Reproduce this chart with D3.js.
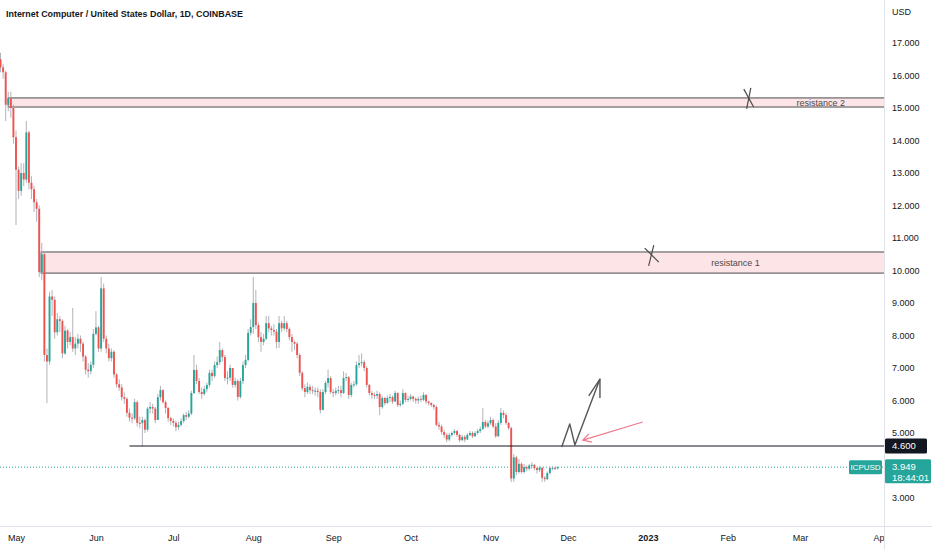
<!DOCTYPE html>
<html>
<head>
<meta charset="utf-8">
<title>ICPUSD</title>
<script src="https://cdn.jsdelivr.net/npm/d3@7"></script>
<style>
  body { margin: 0; background: #fff; }
  svg { display: block; font-family: "Liberation Sans", Arial, sans-serif; }
</style>
</head>
<body>
<svg id="chart"></svg>
<script>

const width = 932;
const height = 550;
const plotRight = 884;
const plotBottom = 526;

// daily candles, first one on 2022-04-25, open of each day = previous close
const firstDay = "2022-04-25T00:00";
const firstOpen = 16.5;

const closes = [
  16.25,16.1,15.1,15.3,15.0,14.1,13.1,12.45,13.0,12.8,
  14.25,12.7,12.5,12.1,11.9,9.95,10.5,7.4,7.2,9.2,
  9.1,8.1,8.5,8.45,7.45,8.15,7.8,7.95,7.6,7.75,
  7.9,7.75,7.35,6.95,6.9,7.1,8.05,8.25,7.6,9.45,
  7.9,7.6,7.3,7.5,6.8,6.5,6.4,6.1,6.05,5.62,
  5.47,5.45,5.95,5.31,5.3,5.4,5.1,5.75,5.8,5.75,
  5.4,6.1,6.32,5.95,5.77,5.46,5.37,5.31,5.18,5.25,
  5.37,5.55,5.5,5.6,6.23,6.94,6.6,6.26,6.2,6.35,
  6.48,6.85,6.75,7.09,7.18,7.55,7.34,6.69,6.7,7.0,
  6.48,6.6,6.11,6.6,7.09,7.25,8.08,8.26,9.0,8.32,
  7.95,7.8,7.9,8.38,8.22,8.17,8.12,7.8,8.38,8.22,
  8.38,8.2,7.95,7.8,7.75,7.4,6.85,6.38,6.26,6.42,
  6.32,6.3,6.3,6.26,5.71,6.26,6.54,6.69,6.26,6.23,
  6.3,6.32,6.23,6.69,6.72,6.17,6.48,6.5,7.09,7.15,
  7.18,7.0,6.48,6.23,6.17,6.15,6.2,5.8,6.08,5.92,
  6.08,6.11,5.97,6.23,5.86,5.9,6.23,6.02,6.05,6.12,
  6.05,6.0,6.05,6.02,6.17,5.97,5.92,5.86,5.8,5.25,
  5.2,5.03,4.94,4.8,4.94,5.0,5.06,4.94,4.78,4.88,
  4.8,4.94,5.0,4.9,5.0,5.06,5.12,5.34,5.2,5.3,
  5.4,5.2,4.9,5.31,5.62,5.55,5.31,5.15,3.6,4.25,
  3.8,4.05,3.8,3.95,3.9,4.0,4.02,3.92,3.86,3.93,
  3.62,3.58,3.77,3.92,3.93,3.91,3.949
];

const highs = [
  16.7,16.35,16.15,15.5,15.5,15.1,14.3,13.2,13.3,13.3,
  14.6,14.3,12.9,12.6,12.2,12.0,10.85,10.6,7.6,9.35,
  9.4,9.2,8.7,8.6,8.5,8.3,8.2,8.1,8.85,7.95,
  8.05,8.0,7.8,7.4,7.15,7.2,8.2,8.75,8.3,9.8,
  9.6,8.0,7.75,7.6,7.55,6.85,6.65,6.5,6.25,6.1,
  5.75,5.6,6.05,6.0,5.5,5.5,5.45,5.8,5.95,5.9,
  5.8,6.2,6.45,6.35,6.0,5.8,5.5,5.45,5.38,5.35,
  5.45,5.6,5.65,5.7,6.3,7.4,7.1,6.7,6.4,6.45,
  6.55,6.95,6.95,7.2,7.35,7.8,7.6,7.4,6.9,7.1,
  7.0,6.7,6.65,6.7,7.2,7.4,8.2,8.5,9.8,9.4,
  8.4,8.1,8.05,8.6,8.6,8.3,8.35,8.2,8.6,8.45,
  8.6,8.45,8.25,8.05,7.85,7.8,7.45,6.9,6.5,6.55,
  6.5,6.45,6.4,6.4,6.35,6.35,6.6,6.95,6.75,6.35,
  6.4,6.45,6.45,6.9,6.85,6.75,6.55,6.6,7.2,7.4,
  7.45,7.25,7.05,6.5,6.3,6.25,6.3,6.25,6.15,6.1,
  6.15,6.2,6.15,6.3,6.25,6.0,6.35,6.25,6.15,6.2,
  6.15,6.1,6.12,6.15,6.25,6.2,6.0,5.95,5.9,5.85,
  5.35,5.25,5.1,5.0,5.0,5.05,5.12,5.1,4.98,4.95,
  4.94,5.0,5.06,5.05,5.05,5.12,5.2,5.77,5.4,5.38,
  5.5,5.45,5.3,5.4,5.77,5.7,5.62,5.35,5.2,4.35,
  4.3,4.2,4.1,4.05,4.0,4.05,4.1,4.05,3.95,3.98,
  3.95,3.68,3.82,3.97,3.98,3.96,3.97
];

const lows = [
  16.1,15.9,14.6,14.9,14.7,13.9,11.4,12.2,12.3,12.6,
  12.7,12.5,12.2,11.8,11.5,9.8,9.7,7.2,5.92,7.1,
  8.6,7.9,8.0,8.1,7.3,7.4,7.6,7.7,7.5,7.4,
  7.6,7.5,7.2,6.8,6.7,6.8,7.0,8.0,7.5,7.5,
  7.8,7.45,7.2,7.2,6.7,6.4,6.3,6.0,5.9,5.5,
  5.35,5.3,5.4,5.2,5.15,4.58,5.0,5.05,5.6,5.6,
  5.3,5.4,6.0,5.9,5.6,5.35,5.25,5.2,5.05,5.1,
  5.2,5.3,5.4,5.45,5.55,6.2,6.5,6.2,6.05,6.15,
  6.25,6.4,6.6,6.7,7.0,7.1,7.2,6.6,6.5,6.6,
  6.4,6.4,6.0,6.05,6.5,7.0,7.2,8.0,8.05,8.2,
  7.8,7.5,7.7,7.85,8.1,8.0,8.0,7.6,7.62,8.1,
  8.15,8.1,7.85,7.5,7.55,7.3,6.75,6.3,6.1,6.2,
  6.2,6.2,6.15,6.1,5.6,5.7,6.2,6.4,6.2,6.1,
  6.15,6.2,6.1,6.2,6.6,6.05,6.1,6.4,6.45,7.0,
  7.05,6.9,6.4,6.15,6.05,6.05,6.05,5.55,5.75,5.85,
  5.9,5.95,5.9,5.95,5.8,5.8,5.85,5.95,5.95,6.0,
  5.95,5.9,5.9,5.95,5.98,5.9,5.85,5.8,5.72,5.2,
  5.1,4.95,4.85,4.72,4.75,4.88,4.95,4.88,4.72,4.75,
  4.72,4.78,4.9,4.85,4.88,4.95,5.0,5.1,5.15,5.15,
  5.25,5.15,4.85,4.88,5.25,5.45,5.25,5.1,3.49,3.5,
  3.7,3.75,3.75,3.75,3.82,3.85,3.9,3.85,3.75,3.8,
  3.5,3.5,3.55,3.72,3.86,3.86,3.88
];

const priceTicks = [3,4,5,6,7,8,9,10,11,12,13,14,15,16,17];
const monthTicks = ["2022-05-01T00:00","2022-06-01T00:00","2022-07-01T00:00","2022-08-01T00:00",
  "2022-09-01T00:00","2022-10-01T00:00","2022-11-01T00:00","2022-12-01T00:00",
  "2023-01-01T00:00","2023-02-01T00:00","2023-03-01T00:00","2023-04-01T00:00"];
const monthLabels = ["May","Jun","Jul","Aug","Sep","Oct","Nov","Dec","2023","Feb","Mar","Apr"];

// drawn zones
const zoneNames = ["resistance 2","resistance 1"];
const zoneStart = ["2022-04-28T00:00","2022-05-10T18:00"];
const zoneLow = [15.03, 9.92];
const zoneHigh = [15.31, 10.57];
const zoneLabelAt = ["2023-03-09T00:00","2023-02-04T00:00"];

const supportPrice = 4.6;
const supportStart = "2022-06-14T00:00";
const lastPrice = 3.949;
const countdown = "18:44:01";

// hand drawn marks (date, price)
const crossMarks = [
  [["2023-02-07T05:00",15.58],["2023-02-11T00:00",15.03]],
  [["2023-02-09T22:00",15.62],["2023-02-08T07:00",14.97]],
  [["2022-12-30T19:00",10.69],["2023-01-05T05:00",10.26]],
  [["2023-01-03T07:00",10.78],["2023-01-01T07:00",10.14]]
];
const zigzag = [["2022-11-28T14:00",4.57],["2022-12-01T17:00",5.28],["2022-12-03T17:00",4.63],["2022-12-13T10:00",6.66]];
const zigzagHead = [["2022-12-09T02:00",6.14],["2022-12-13T10:00",6.66],["2022-12-13T10:00",6.08]];
const pinkArrow = [["2022-12-30T00:00",5.34],["2022-12-06T19:00",4.78]];
const pinkHead = [["2022-12-09T02:00",4.97],["2022-12-06T19:00",4.78],["2022-12-10T07:00",4.72]];

const parse = d3.utcParse("%Y-%m-%dT%H:%M");
const up = "#26a69a";
const down = "#ef5350";

const candles = closes.map((c, i) => ({
  date: d3.utcDay.offset(parse(firstDay), i),
  open: i === 0 ? firstOpen : closes[i - 1],
  close: c,
  high: highs[i],
  low: lows[i]
}));

const x = d3.scaleUtc()
  .domain([parse("2022-05-01T00:00"), parse("2023-04-01T00:00")])
  .range([16, 880]);

const y = d3.scaleLinear()
  .domain([3, 17])
  .range([498, 43]);

const svg = d3.select("#chart")
  .attr("width", width)
  .attr("height", height);

svg.append("rect").attr("width", width).attr("height", height).attr("fill", "#fff");

svg.append("defs").append("clipPath").attr("id", "plot")
  .append("rect").attr("width", plotRight).attr("height", plotBottom);

const plot = svg.append("g").attr("clip-path", "url(#plot)");

// zones
zoneNames.forEach((name, i) => {
  const x0 = x(parse(zoneStart[i]));
  plot.append("rect")
    .attr("x", x0)
    .attr("y", y(zoneHigh[i]))
    .attr("width", plotRight - x0 + 2)
    .attr("height", y(zoneLow[i]) - y(zoneHigh[i]))
    .attr("fill", "#fce4e7")
    .attr("stroke", "#4d4d4d")
    .attr("stroke-width", 1);
});

// dotted last price line
plot.append("line")
  .attr("x1", 0).attr("x2", plotRight)
  .attr("y1", y(lastPrice)).attr("y2", y(lastPrice))
  .attr("stroke", up)
  .attr("stroke-dasharray", "1,2");

// candles
const bw = 1.9;
plot.append("g").selectAll("line")
  .data(candles)
  .join("line")
    .attr("x1", d => x(d.date)).attr("x2", d => x(d.date))
    .attr("y1", d => y(d.high)).attr("y2", d => y(d.low))
    .attr("stroke", "#a7aab2")
    .attr("stroke-width", 0.9);

plot.append("g").selectAll("rect")
  .data(candles)
  .join("rect")
    .attr("x", d => x(d.date) - bw / 2)
    .attr("width", bw)
    .attr("y", d => y(Math.max(d.open, d.close)))
    .attr("height", d => Math.max(1, Math.abs(y(d.open) - y(d.close))))
    .attr("fill", d => d.close >= d.open ? up : down);

// support
plot.append("line")
  .attr("x1", x(parse(supportStart))).attr("x2", plotRight)
  .attr("y1", y(supportPrice)).attr("y2", y(supportPrice))
  .attr("stroke", "#131722")
  .attr("stroke-width", 1.1);

// zone labels
zoneNames.forEach((name, i) => {
  plot.append("text")
    .attr("x", x(parse(zoneLabelAt[i])))
    .attr("y", y((zoneLow[i] + zoneHigh[i]) / 2))
    .attr("dy", "0.35em")
    .attr("text-anchor", "middle")
    .attr("font-size", 9)
    .attr("fill", "#4a4a4a")
    .text(name);
});

// hand drawn marks
const line = d3.line().x(d => x(parse(d[0]))).y(d => y(d[1]));

crossMarks.forEach(m => {
  plot.append("path").attr("d", line(m))
    .attr("fill", "none").attr("stroke", "#4a4a4a").attr("stroke-width", 1.2);
});

[zigzag, zigzagHead].forEach(p => {
  plot.append("path").attr("d", line(p))
    .attr("fill", "none").attr("stroke", "#555")
    .attr("stroke-width", 1.4).attr("stroke-linejoin", "round");
});

[pinkArrow, pinkHead].forEach(p => {
  plot.append("path").attr("d", line(p))
    .attr("fill", "none").attr("stroke", "#ee7a8e")
    .attr("stroke-width", 1.2);
});

// axes borders
svg.append("line")
  .attr("x1", plotRight + 0.5).attr("x2", plotRight + 0.5)
  .attr("y1", 0).attr("y2", height)
  .attr("stroke", "#e0e3eb");
svg.append("line")
  .attr("x1", 0).attr("x2", width)
  .attr("y1", plotBottom + 0.5).attr("y2", plotBottom + 0.5)
  .attr("stroke", "#e0e3eb");

// price axis
const yAxis = svg.append("g")
  .attr("transform", `translate(${plotRight},0)`)
  .call(d3.axisRight(y).tickValues(priceTicks).tickSize(0).tickPadding(8).tickFormat(d3.format(".3f")));
yAxis.select(".domain").remove();
yAxis.selectAll("text").attr("font-size", 9).attr("fill", "#131722").attr("font-family", null);

svg.append("text")
  .attr("x", plotRight + 8).attr("y", 15)
  .attr("font-size", 9).attr("fill", "#131722")
  .text("USD");

// time axis
svg.append("defs").append("clipPath").attr("id", "taxis")
  .append("rect").attr("x", 0).attr("y", plotBottom).attr("width", plotRight).attr("height", height - plotBottom);
const xAxis = svg.append("g")
  .attr("clip-path", "url(#taxis)")
  .append("g")
  .attr("transform", `translate(0,${plotBottom})`)
  .call(d3.axisBottom(x).tickValues(monthTicks.map(parse)).tickSize(0).tickPadding(9)
    .tickFormat((d, i) => monthLabels[i]));
xAxis.select(".domain").remove();
xAxis.selectAll("text")
  .attr("font-size", 9).attr("fill", "#131722").attr("font-family", null)
  .attr("font-weight", (d, i) => monthLabels[i] === "2023" ? "bold" : null);

// support price tag
const sy = y(supportPrice);
svg.append("rect").attr("x", plotRight + 1).attr("y", sy - 7.5).attr("width", 42).attr("height", 15)
  .attr("rx", 1.5).attr("fill", "#131722");
svg.append("text").attr("x", plotRight + 8).attr("y", sy).attr("dy", "0.35em")
  .attr("font-size", 9.5).attr("fill", "#fff").text(d3.format(".3f")(supportPrice));

// last price tags
const ly = y(lastPrice);
svg.append("rect").attr("x", plotRight + 1).attr("y", ly - 8).attr("width", 46).attr("height", 24)
  .attr("rx", 1.5).attr("fill", up);
svg.append("text").attr("x", plotRight + 8).attr("y", ly).attr("dy", "0.35em")
  .attr("font-size", 9.5).attr("fill", "#fff").text(d3.format(".3f")(lastPrice));
svg.append("text").attr("x", plotRight + 8).attr("y", ly + 11).attr("dy", "0.35em")
  .attr("font-size", 9.5).attr("fill", "#fff").text(countdown);

svg.append("rect").attr("x", plotRight - 35).attr("y", ly - 7).attr("width", 33).attr("height", 14)
  .attr("rx", 1.5).attr("fill", up);
svg.append("text").attr("x", plotRight - 18.5).attr("y", ly).attr("dy", "0.35em")
  .attr("text-anchor", "middle").attr("font-size", 8).attr("fill", "#fff").text("ICPUSD");

// title
svg.append("text")
  .attr("x", 6).attr("y", 17)
  .attr("font-size", 9.6).attr("font-weight", "bold").attr("fill", "#131722")
  .attr("textLength", 237).attr("lengthAdjust", "spacingAndGlyphs")
  .text("Internet Computer / United States Dollar, 1D, COINBASE");

</script>
</body>
</html>
